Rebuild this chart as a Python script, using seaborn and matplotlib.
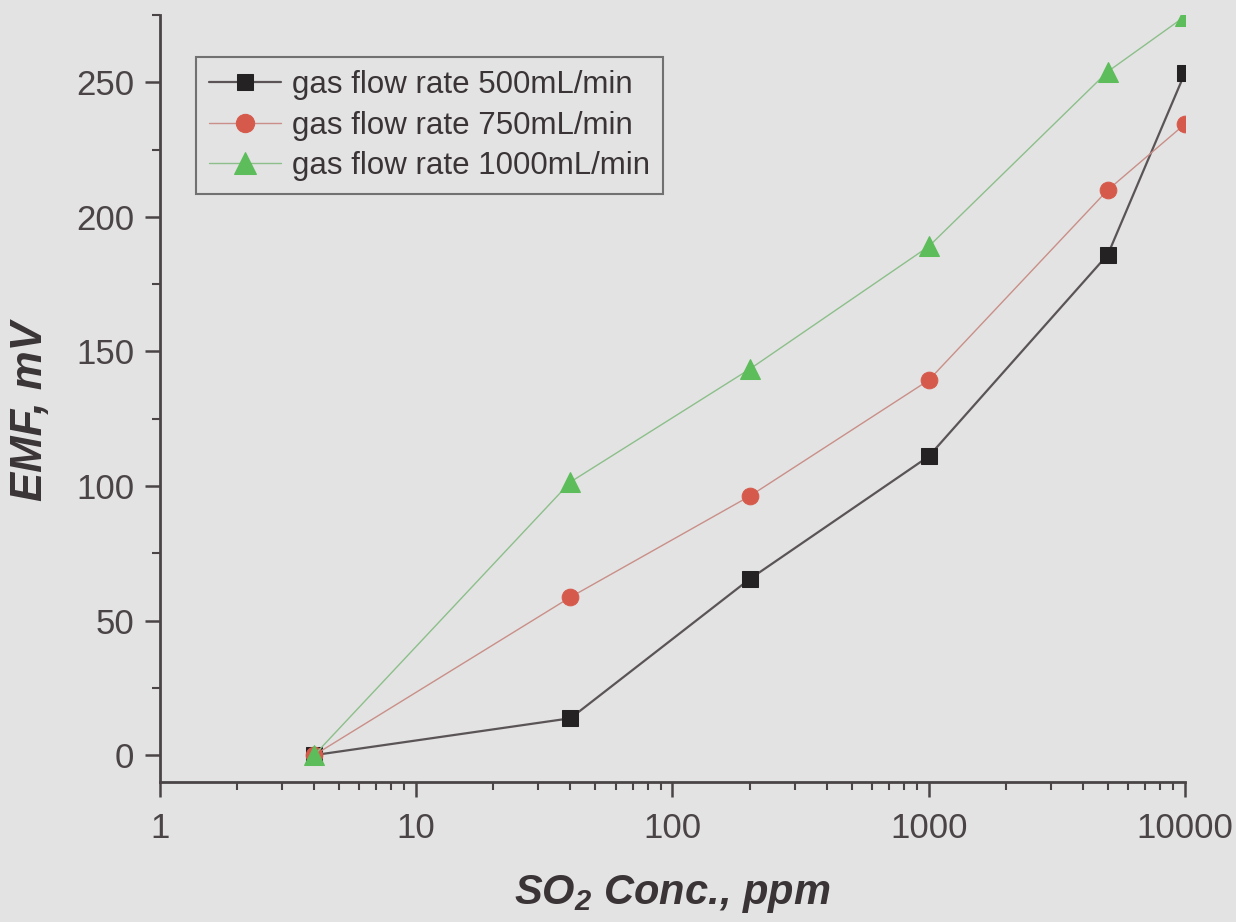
import numpy as np
import pandas as pd
import matplotlib
matplotlib.use("Agg")
import matplotlib.pyplot as plt
import seaborn as sns
from matplotlib.ticker import LogLocator, FixedLocator, MultipleLocator, FuncFormatter

conc = [4, 40, 200, 1000, 5000, 10000]
emf_500 = [0, 13.7, 65.4, 111, 186, 253.5]
emf_750 = [0, 58.7, 96.2, 139.3, 210, 234.5]
emf_1000 = [0, 101.5, 143.4, 189, 254, 274.5]
labels = ["gas flow rate 500mL/min", "gas flow rate 750mL/min", "gas flow rate 1000mL/min"]

sns.set_theme(style="ticks")
plt.rcParams['font.family'] = ['Liberation Sans', 'DejaVu Sans']
plt.rcParams['mathtext.fontset'] = 'custom'
plt.rcParams['mathtext.bf'] = 'Liberation Sans:bold:italic'
plt.rcParams['mathtext.it'] = 'Liberation Sans:bold:italic'
plt.rcParams['mathtext.rm'] = 'Liberation Sans:bold:italic'
bg = "#e3e3e3"
axc = "#4a4446"

fig = plt.figure(figsize=(12.36, 9.22), dpi=100, facecolor=bg)
ax = fig.add_axes([0.1294, 0.1518, 0.8293, 0.8319], facecolor=bg)

series = [
    (emf_500, labels[0], "#252223", "s", 1.6, "#5a5456", 11),
    (emf_750, labels[1], "#d65a4c", "o", 1.0, "#c98f88", 12),
    (emf_1000, labels[2], "#5cbd5a", "^", 1.0, "#8cbf8a", 14),
]
for vals, lab, mc, mk, lw, lc, ms in series:
    df = pd.DataFrame({"x": conc, "y": vals})
    sns.lineplot(data=df, x="x", y="y", ax=ax, color=lc, linewidth=lw,
                 marker=mk, markersize=ms, markerfacecolor=mc, markeredgecolor=mc,
                 label=lab, clip_on=True, zorder=3)

ax.set_xscale("log")
ax.set_xlim(1, 10000)
ax.set_ylim(-10, 275)
ax.xaxis.set_major_locator(FixedLocator([1, 10, 100, 1000, 10000]))
ax.xaxis.set_major_formatter(FuncFormatter(lambda v, p: f"{int(round(v))}"))
ax.xaxis.set_minor_locator(LogLocator(base=10, subs=np.arange(2, 10)))
ax.yaxis.set_major_locator(FixedLocator([0, 50, 100, 150, 200, 250]))
ax.yaxis.set_minor_locator(MultipleLocator(25))

for s in ["top", "right"]:
    ax.spines[s].set_visible(False)
for s in ["left", "bottom"]:
    ax.spines[s].set_color(axc)
    ax.spines[s].set_linewidth(2.0)

ax.tick_params(axis="both", which="major", direction="out", length=11, width=1.8,
               color=axc, labelcolor="#4a4446", labelsize=25)
ax.tick_params(axis="x", which="major", pad=10.5)
ax.tick_params(axis="y", which="major", pad=7.5)
ax.tick_params(axis="both", which="minor", direction="out", length=6, width=1.5, color=axc)

ax.set_xlabel("SO$_{2}$ Conc., ppm", fontsize=30, fontweight="bold", fontstyle="italic",
              color="#3a3436")
ax.set_ylabel("EMF, mV", fontsize=31.5, fontweight="bold", fontstyle="italic",
              color="#3a3436")
ax.xaxis.set_label_coords(0.5, -0.118)
ax.yaxis.set_label_coords(-0.106, 0.484)

leg = ax.legend(loc="upper left", bbox_to_anchor=(0.035, 0.945), frameon=True, fancybox=False,
                fontsize=22.5, handlelength=2.3, handletextpad=0.35, borderpad=0.42,
                labelspacing=0.33, borderaxespad=0, markerscale=1.1)
leg.get_frame().set_facecolor(bg)
leg.get_frame().set_edgecolor("#555")
leg.get_frame().set_linewidth(1.5)
for t in leg.get_texts():
    t.set_color("#3a3436")

fig.savefig("out.png", dpi=100, facecolor=bg)
